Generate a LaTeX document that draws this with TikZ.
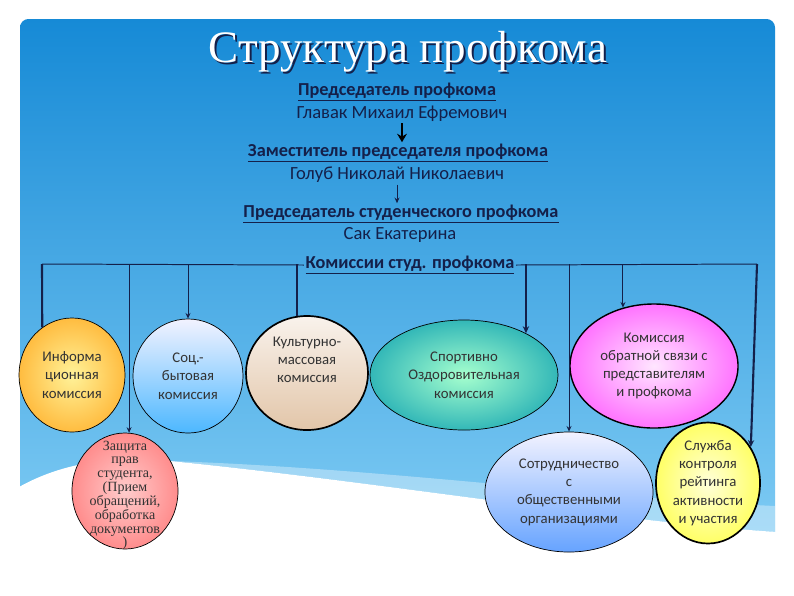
\documentclass[tikz,border=0pt]{standalone}
\usepackage{fontspec}
\setmainfont{Carlito}
\newfontfamily\serifface{Liberation Serif}
\usepackage{tikz}
\usetikzlibrary{shapes.geometric, arrows, arrows.meta, positioning}
\definecolor{navy}{HTML}{14204A}
\definecolor{skytop}{HTML}{168AD6}
\definecolor{skybottom}{HTML}{80CCF4}
\tikzstyle{role} = [font=\fontsize{13}{15}\selectfont\bfseries, text=navy, inner sep=1pt]
\tikzstyle{person} = [font=\fontsize{13.2}{15}\selectfont, text=navy, inner sep=1pt]
\tikzstyle{commission} = [ellipse, draw=black, line width=0.5pt, align=center, inner sep=0pt, font=\fontsize{10.5}{13}\selectfont, text=black!80]
\tikzstyle{bus} = [draw=navy, line width=0.7pt]
\tikzstyle{drop} = [draw=navy, line width=1.5pt]
\tikzstyle{droparrow} = [draw=navy, line width=1.5pt, -{Stealth[length=5pt, width=4.5pt]}]
\tikzstyle{thinarrow} = [draw=navy, line width=0.7pt, -{Stealth[length=4pt, width=3.5pt]}]
\tikzstyle{headarrow} = [draw=black, line width=1.5pt, -{Stealth[length=6pt, width=7pt]}]

\begin{document}
\begin{tikzpicture}[x=0.025cm, y=-0.025cm]
\useasboundingbox (0,0) rectangle (794,595);
% Background
\fill[white] (0,0) rectangle (794,595);
\shade[top color=skytop, bottom color=skybottom, rounded corners=6pt] (20,19) rectangle (775,545);
\fill[white, opacity=0.35] (170,461) .. controls (380,468) and (600,498) .. (775,506) -- (775,532) .. controls (620,522) and (380,482) .. (170,461) -- cycle;
\fill[white] (19,487) .. controls (60,464) and (110,455) .. (170,461) .. controls (380,482) and (620,522) .. (777,532) -- (777,595) -- (19,595) -- cycle;

% Title
\node (titleshadow) [font=\serifface\fontsize{32}{36}\selectfont, text=navy] at (410,54) {Структура профкома};
\node (title) [font=\serifface\fontsize{32}{36}\selectfont, text=white] at (408,52) {Структура профкома};

% Nodes
\node (chair) [role] at (397,92) {\underline{Председатель профкома}};
\node (chairname) [person] at (402,114) {Главак Михаил Ефремович};
\node (deputy) [role] at (398,153) {\underline{Заместитель председателя профкома}};
\node (deputyname) [person] at (397,175) {Голуб Николай Николаевич};
\node (student) [role] at (401,214) {\underline{Председатель студенческого профкома}};
\node (studentname) [person] at (400,235) {Сак Екатерина};
\node (commissions) [role] at (410,265) {\underline{Комиссии студ. профкома}};

\node (info) [commission, minimum width=2.65cm, minimum height=2.85cm, inner color=orange!25!yellow!40, outer color=orange!70!yellow!75] at (72,375) {Информа\\ционная\\комиссия};
\node (social) [commission, minimum width=2.75cm, minimum height=2.85cm, top color=blue!5!white, bottom color=blue!40!cyan!70] at (188,376) {Соц.-\\бытовая\\комиссия};
\node (culture) [commission, line width=1.2pt, minimum width=3.05cm, minimum height=2.85cm, top color=brown!10, bottom color=brown!45] at (307,373) {Культурно-\\массовая\\комиссия\\[6pt]};
\node (sport) [commission, minimum width=4.7cm, minimum height=2.75cm, inner color=cyan!45!green!35, outer color=teal!70!cyan!80] at (464,375) {Спортивно\\Оздоровительная\\комиссия};
\node (feedback) [commission, line width=1pt, minimum width=4.2cm, minimum height=3.1cm, inner color=magenta!10, outer color=magenta!55] at (654,366) {Комиссия\\обратной связи с\\представителям\\и профкома};
\node (rights) [commission, minimum width=2.65cm, minimum height=2.9cm, font=\serifface\fontsize{10}{9.6}\selectfont, inner color=red!20, outer color=red!45] at (125,491) {\smash{\raisebox{-6pt}{\begin{tabular}{@{}c@{}}Защита\\прав\\студента,\\(Прием\\обращений,\\обработка\\документов\\)\end{tabular}}}};
\node (partners) [commission, minimum width=4.2cm, minimum height=3.0cm, top color=blue!5, bottom color=blue!60!cyan!60] at (569,492) {Сотрудничество\\с\\общественными\\организациями};
\node (rating) [commission, line width=1.2pt, minimum width=2.6cm, minimum height=2.75cm, inner color=yellow!15, outer color=yellow!60] at (708,483) {Служба\\контроля\\рейтинга\\активности\\и участия};

\coordinate (busL) at (42,264);
\coordinate (busR) at (757,264);

% Arrows
\draw [headarrow] (chairname.south) -- (chairname.south |- deputy.north);
\draw [thinarrow] (deputyname.south) -- (deputyname.south |- student.north);
\draw [bus] (commissions.west) -- (busL);
\draw [bus] (commissions.east) -- (busR);
\draw [drop] (busL) -- (info.122);
\draw [thinarrow] (rights.86 |- busL) -- (rights.86);
\draw [thinarrow] (social.north |- busL) -- (social.north);
\draw [drop] (culture.100 |- busL) -- (culture.100);
\draw [droparrow] (sport.34 |- busR) -- (sport.34);
\draw [thinarrow] (partners.north |- busR) -- (partners.north);
\draw [thinarrow] (feedback.118 |- busR) -- (feedback.118);
\draw [droparrow] (busR) -- (rating.40);
\end{tikzpicture}
\end{document}
